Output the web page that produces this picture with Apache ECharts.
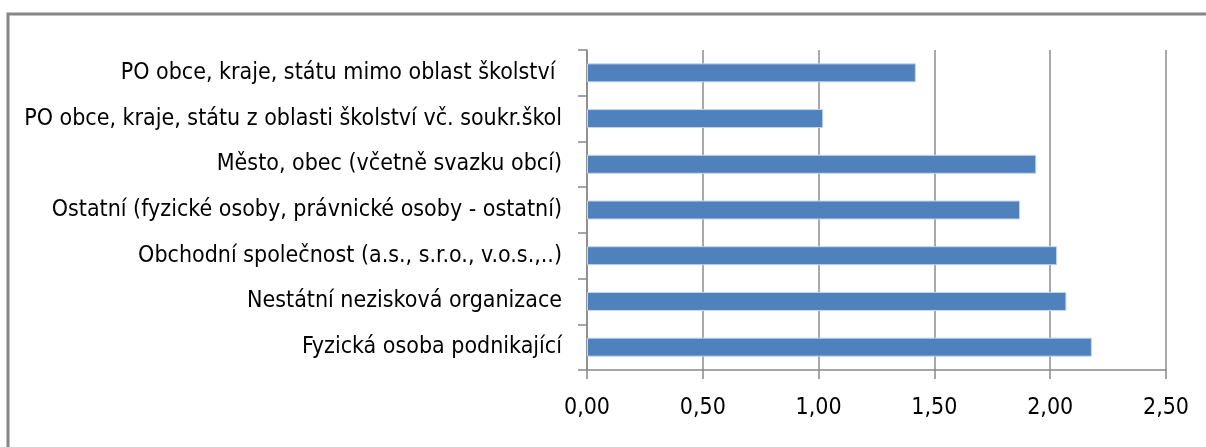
<!DOCTYPE html>
<html>
<head>
<meta charset="utf-8">
<script src="https://cdn.jsdelivr.net/npm/echarts@6/dist/echarts.min.js"></script>
<style>
    * { margin: 0; padding: 0; }
    body { background: #fff; }
</style>
</head>
<body>
<div id="main" style="width:1206px;height:447px;"></div>
<script>
    // kategorie shora dolů
    var categories = [
        'PO obce, kraje, státu mimo oblast školství ',
        'PO obce, kraje, státu z oblasti školství vč. soukr.škol',
        'Město, obec (včetně svazku obcí)',
        'Ostatní (fyzické osoby, právnické osoby - ostatní)',
        'Obchodní společnost (a.s., s.r.o., v.o.s.,..)',
        'Nestátní nezisková organizace',
        'Fyzická osoba podnikající'
    ];
    var values = [1.42, 1.02, 1.94, 1.87, 2.03, 2.07, 2.18];
    var xTicks = [0, 0.5, 1, 1.5, 2, 2.5];

    var font = '"Liberation Sans Narrow", "DejaVu Sans Condensed", "Liberation Sans", sans-serif';
    var chart = echarts.init(document.getElementById('main'));
    chart.setOption({
        backgroundColor: '#fff',
        animation: false,
        graphic: [{
            type: 'rect',
            shape: { x: 8, y: 14, width: 1260, height: 500 },
            style: { fill: 'none', stroke: '#868686', lineWidth: 3 }
        }],
        grid: { left: 587, right: 40, top: 50, bottom: 77 },
        xAxis: {
            type: 'value',
            min: xTicks[0],
            max: xTicks[xTicks.length - 1],
            interval: 0.5,
            axisLine: { show: true, lineStyle: { color: '#888', width: 1.5 } },
            axisTick: { show: true, length: 9, lineStyle: { color: '#888', width: 1.5 } },
            splitLine: { show: true, lineStyle: { color: '#8c8c8c', width: 1.5 } },
            axisLabel: {
                margin: 27,
                color: '#000',
                fontSize: 23,
                fontFamily: font,
                formatter: function (v) { return v.toFixed(2).replace('.', ','); }
            }
        },
        yAxis: {
            type: 'category',
            data: categories,
            inverse: true,
            axisLine: { show: true, lineStyle: { color: '#888', width: 1.5 } },
            axisTick: { show: true, length: 9, lineStyle: { color: '#888', width: 1.5 } },
            axisLabel: {
                margin: 25,
                color: '#000',
                fontSize: 23,
                fontFamily: font
            }
        },
        series: [{
            type: 'bar',
            data: values,
            barWidth: 19,
            itemStyle: { color: '#4f81bd', borderColor: '#c6d6ec', borderWidth: 1 }
        }]
    });
</script>
</body>
</html>
